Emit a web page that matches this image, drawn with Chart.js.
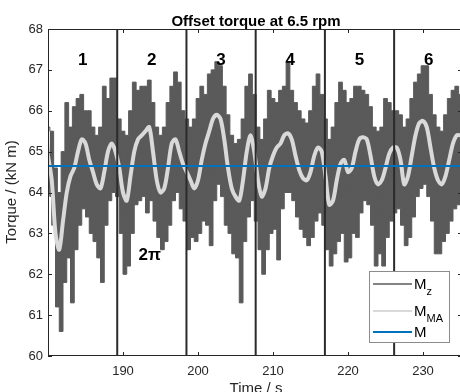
<!DOCTYPE html>
<html>
<head>
<meta charset="utf-8">
<script src="https://cdn.jsdelivr.net/npm/chart.js@4.4.1/dist/chart.umd.min.js"></script>
<style>
html,body{margin:0;padding:0;background:#fff;overflow:hidden;width:460px;height:392px;}
#wrap{position:relative;width:464px;height:392px;}
</style>
</head>
<body>
<div id="wrap"><canvas id="c" width="464" height="392"></canvas></div>
<script>
const mzMA = [64.9,64.3,63.0,62.6,63.3,64.0,64.4,64.6,65.0,65.3,65.2,64.8,64.5,64.2,64.1,64.5,65.0,65.2,65.0,64.6,
  64.0,63.8,64.4,65.0,65.3,65.4,65.5,65.6,65.0,64.3,64.0,64.1,64.6,65.2,65.3,65.0,64.7,64.5,64.3,64.1,
  64.3,64.8,65.2,65.5,65.8,65.9,65.8,65.3,64.6,64.1,63.9,63.8,64.3,65.0,65.4,65.0,64.3,63.9,64.1,64.6,
  64.9,65.1,65.2,65.4,65.45,65.3,64.9,64.55,64.35,64.3,64.5,64.9,65.1,65.0,64.4,63.7,63.8,64.3,64.7,64.8,
  64.5,64.6,65.0,65.3,65.35,65.3,64.9,64.4,64.2,64.3,64.6,64.95,65.1,65.1,64.8,64.2,64.4,64.9,65.4,65.7,
  65.75,65.6,65.1,64.6,64.3,64.2,64.4,64.8,65.2,65.4,65.4];
const mzHigh = [65.6,65.5,64.6,64.0,65.0,66.2,65.6,66.1,66.3,66.4,66.0,66.0,65.6,65.4,65.6,66.6,66.3,66.8,66.8,65.8,
  65.5,65.4,66.0,66.7,66.5,66.6,66.6,66.75,66.2,65.6,65.4,65.6,66.2,66.6,66.95,66.7,66.0,65.8,65.6,65.8,
  66.3,66.6,66.4,66.9,67.0,67.2,67.1,66.6,65.9,65.4,65.2,65.3,65.8,66.6,66.9,66.4,65.6,65.3,65.8,66.5,
  66.3,66.2,66.5,66.6,67.2,66.5,66.2,66.0,65.8,65.7,66.0,66.6,66.9,66.4,65.8,65.3,65.6,66.2,66.7,66.5,
  66.2,66.3,66.6,66.6,66.5,66.4,66.1,65.6,65.5,65.6,66.3,66.2,66.0,66.0,65.9,65.6,65.8,66.3,66.7,66.9,
  67.1,67.1,66.4,65.9,65.6,65.5,65.9,66.3,66.5,66.6,66.4];
const mzLow = [63.9,63.2,61.2,60.6,61.8,62.4,61.3,62.6,63.2,63.6,63.4,63.0,62.8,62.4,61.8,63.2,63.8,64.0,63.9,63.0,
  62.0,62.2,63.0,63.7,63.8,63.9,63.5,63.8,63.3,62.9,62.6,62.8,63.2,63.8,64.0,63.6,63.3,62.6,62.9,62.8,
  63.0,63.3,63.2,62.7,63.8,64.2,63.9,63.2,63.0,62.5,62.4,61.3,62.8,63.4,63.8,63.3,62.6,62.0,62.6,63.0,
  63.1,62.35,63.6,64.0,64.0,63.8,63.4,63.1,62.9,62.7,62.9,63.3,63.5,63.2,62.6,62.2,62.5,62.8,63.0,62.3,
  62.4,63.0,62.9,63.5,63.8,63.7,63.2,62.2,62.5,62.2,62.9,63.3,63.5,63.6,63.2,62.7,62.9,63.4,63.9,64.1,
  64.2,63.9,63.3,62.5,62.5,62.8,63.0,63.3,63.6,63.7,63.9];
const meanTorque = 64.65;
const startTime = 180;
const sampleStep = 0.5;
const revBoundaries = [189.23, 198.46, 207.69, 216.92, 226.15];
const revLabels = ['1','2','3','4','5','6'];
const xTicks = [190, 200, 210, 220, 230];
const yTicks = [60, 61, 62, 63, 64, 65, 66, 67, 68];
const xRange = [180, 235.2];
const yRange = [60, 68];

// ---- build datasets ----
const time = mzMA.map((_, i) => startTime + sampleStep * i);
const hiPoints = time.map((t, i) => ({x: t, y: mzHigh[i]}));
const loPoints = time.map((t, i) => ({x: t + sampleStep / 2, y: mzLow[i]}));
const mzPoints = [];
time.forEach((t, i) => {
  mzPoints.push({x: t, y: mzHigh[i]});
  mzPoints.push({x: t + sampleStep / 2, y: mzLow[i]});
});
const maPoints = time.map((t, i) => ({x: t, y: mzMA[i]}));
const meanPoints = [{x: xRange[0], y: meanTorque}, {x: xRange[1], y: meanTorque}];

const FONT = "'Liberation Sans', Arial, Helvetica, sans-serif";
const AX = '#262626';
const DARK = '#5a5a5a';

const boundarySets = revBoundaries.map(b => ({
  label: 'rev', data: [{x: b, y: yRange[0]}, {x: b, y: yRange[1]}],
  borderColor: '#2b2b2b', borderWidth: 2, pointRadius: 0, order: 1
}));

const decor = {
  id: 'decor',
  afterDatasetsDraw(chart) {
    const ctx = chart.ctx, a = chart.chartArea;
    const xs = chart.scales.x, ys = chart.scales.y;
    ctx.save();
    ctx.strokeStyle = AX; ctx.lineWidth = 1;
    ctx.beginPath();
    ctx.moveTo(a.left + 0.5, a.top + 0.5); ctx.lineTo(a.right, a.top + 0.5);
    ctx.moveTo(a.left + 0.5, a.top); ctx.lineTo(a.left + 0.5, a.bottom);
    ctx.moveTo(a.left, a.bottom - 0.5); ctx.lineTo(a.right, a.bottom - 0.5);
    ctx.moveTo(a.right - 0.5, a.top); ctx.lineTo(a.right - 0.5, a.bottom);
    ctx.stroke();
    ctx.beginPath();
    xTicks.forEach(v => {
      const px = Math.round(xs.getPixelForValue(v)) + 0.5;
      ctx.moveTo(px, a.bottom); ctx.lineTo(px, a.bottom - 4);
      ctx.moveTo(px, a.top); ctx.lineTo(px, a.top + 4);
    });
    yTicks.forEach(v => {
      const py = Math.round(ys.getPixelForValue(v)) + 0.5;
      ctx.moveTo(a.left, py); ctx.lineTo(a.left + 4, py);
      ctx.moveTo(a.right, py); ctx.lineTo(a.right - 4, py);
    });
    ctx.stroke();
    ctx.fillStyle = '#000';
    ctx.textAlign = 'center'; ctx.textBaseline = 'alphabetic';
    ctx.font = 'bold 17px ' + FONT;
    const edges = [xRange[0]].concat(revBoundaries).concat([revBoundaries[4] + (revBoundaries[4] - revBoundaries[3])]);
    revLabels.forEach((lab, k) => {
      const c = (edges[k] + edges[k + 1]) / 2;
      ctx.fillText(lab, xs.getPixelForValue(c), ys.getPixelForValue(67.12));
    });
    ctx.fillText('2π', xs.getPixelForValue((edges[1] + edges[2]) / 2) - 2, ys.getPixelForValue(62.35));
    ctx.restore();
  },
  afterDraw(chart) {
    const ctx = chart.ctx;
    ctx.save();
    ctx.fillStyle = '#000';
    ctx.textAlign = 'center'; ctx.textBaseline = 'alphabetic';
    ctx.font = 'bold 15px ' + FONT;
    ctx.fillText('Offset torque at 6.5 rpm', 256, 26);
    ctx.fillStyle = AX;
    ctx.font = '15px ' + FONT;
    ctx.fillText('Time / s', 256, 393);
    ctx.save();
    ctx.translate(16, 192); ctx.rotate(-Math.PI / 2);
    ctx.fillText('Torque / (kN m)', 0, 0);
    ctx.restore();
    const L = 369, T = 271, R = 450, B = 343;
    ctx.fillStyle = '#fff'; ctx.fillRect(L, T, R - L, B - T);
    ctx.strokeStyle = '#8c8c8c'; ctx.lineWidth = 1;
    ctx.strokeRect(L + 0.5, T + 0.5, R - L - 1, B - T - 1);
    const items = [
      {c: DARK, w: 1.5, y: 284, m: 'M', s: 'z'},
      {c: '#d9d9d9', w: 2, y: 311, m: 'M', s: 'MA'},
      {c: '#0072BD', w: 2, y: 332, m: 'M', s: ''}
    ];
    items.forEach(it => {
      ctx.strokeStyle = it.c; ctx.lineWidth = it.w;
      ctx.beginPath(); ctx.moveTo(373, it.y); ctx.lineTo(412, it.y); ctx.stroke();
      ctx.fillStyle = '#000'; ctx.textAlign = 'left';
      ctx.font = '15px ' + FONT;
      ctx.fillText(it.m, 414, it.y + 5);
      const w = ctx.measureText(it.m).width;
      if (it.s) { ctx.font = '11px ' + FONT; ctx.fillText(it.s, 414 + w, it.y + 11); }
    });
    ctx.restore();
  }
};

new Chart(document.getElementById('c'), {
  type: 'line',
  data: {
    datasets: [
      {label: 'M', data: meanPoints, borderColor: '#0072BD', borderWidth: 2, pointRadius: 0, order: 0},
      ...boundarySets,
      {label: 'M_MA', data: maPoints, borderColor: '#d9d9d9', borderWidth: 4, pointRadius: 0, tension: 0.3, order: 2},
      {label: 'M_z', data: mzPoints, borderColor: DARK, borderWidth: 1.2, pointRadius: 0, tension: 0, order: 3},
      {label: 'hi', data: hiPoints, borderColor: DARK, borderWidth: 1, backgroundColor: DARK, stepped: 'middle', pointRadius: 0, fill: '+1', order: 4},
      {label: 'lo', data: loPoints, borderColor: DARK, borderWidth: 1, stepped: 'middle', pointRadius: 0, fill: false, order: 5}
    ]
  },
  options: {
    responsive: false, animation: false, devicePixelRatio: 1,
    layout: {padding: {top: 29, right: 2, left: 0, bottom: 0}},
    plugins: {legend: {display: false}, tooltip: {enabled: false}, title: {display: false}, filler: {propagate: false}},
    scales: {
      x: {
        type: 'linear', min: xRange[0], max: xRange[1],
        afterBuildTicks: s => { s.ticks = xTicks.map(v => ({value: v})); },
        afterFit: s => { s.height = 36; },
        grid: {display: false, drawTicks: false}, border: {display: false},
        ticks: {color: AX, font: {size: 13, family: FONT}, padding: 8, maxRotation: 0, autoSkip: false}
      },
      y: {
        min: yRange[0], max: yRange[1],
        afterBuildTicks: s => { s.ticks = yTicks.map(v => ({value: v})); },
        afterFit: s => { s.width = 48; },
        grid: {display: false, drawTicks: false}, border: {display: false},
        ticks: {color: AX, font: {size: 13, family: FONT}, padding: 5, autoSkip: false}
      }
    }
  },
  plugins: [decor]
});
</script>
</body>
</html>
